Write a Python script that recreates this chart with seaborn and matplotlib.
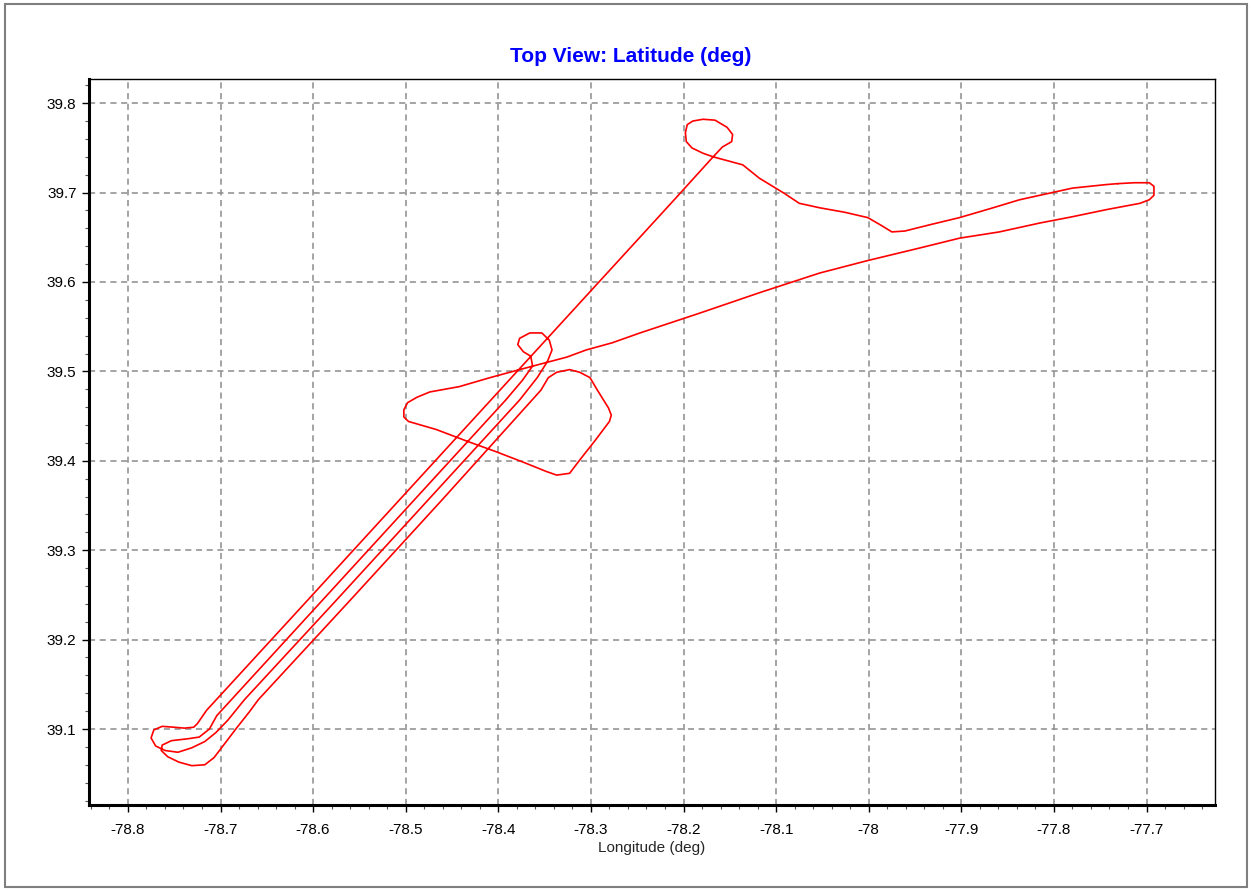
import numpy as np
import pandas as pd
import matplotlib
matplotlib.use("Agg")
import matplotlib.pyplot as plt
import seaborn as sns
from matplotlib.ticker import MultipleLocator
from matplotlib.patches import Rectangle

# Flight track, in drawing order
lon = [-77.731, -77.713, -77.697, -77.692, -77.692, -77.697, -77.707, -77.743, -77.780, -77.815,
       -77.859, -77.902, -77.945, -77.977, -78.001, -78.053, -78.118, -78.183, -78.247, -78.277,
       -78.305, -78.326, -78.348, -78.377, -78.409, -78.442, -78.474, -78.488, -78.498, -78.502,
       -78.502, -78.497, -78.467, -78.434, -78.402, -78.372, -78.348, -78.337, -78.323, -78.312,
       -78.296, -78.280, -78.278, -78.281, -78.293, -78.301, -78.312, -78.323, -78.337, -78.346,
       -78.354, -78.461, -78.560, -78.659, -78.669, -78.682, -78.696, -78.707, -78.717, -78.731,
       -78.745, -78.757, -78.764, -78.763, -78.753, -78.736, -78.723, -78.712, -78.704, -78.590,
       -78.491, -78.392, -78.374, -78.363, -78.365, -78.373, -78.379, -78.377, -78.366, -78.353,
       -78.345, -78.342, -78.347, -78.358, -78.377, -78.476, -78.575, -78.674, -78.692, -78.705,
       -78.717, -78.731, -78.746, -78.760, -78.770, -78.775, -78.772, -78.763, -78.750, -78.739,
       -78.729, -78.725, -78.715, -78.606, -78.507, -78.408, -78.309, -78.210, -78.168, -78.158,
       -78.148, -78.147, -78.153, -78.166, -78.179, -78.190, -78.196, -78.198, -78.197, -78.191,
       -78.179, -78.168, -78.136, -78.118, -78.091, -78.075, -78.053, -78.026, -78.001, -77.986,
       -77.975, -77.961, -77.934, -77.902, -77.869, -77.837, -77.815, -77.780, -77.743, -77.731]
lat = [39.710, 39.711, 39.711, 39.707, 39.697, 39.692, 39.688, 39.681, 39.673, 39.666,
       39.656, 39.649, 39.638, 39.630, 39.624, 39.610, 39.588, 39.565, 39.543, 39.532,
       39.524, 39.516, 39.510, 39.502, 39.493, 39.483, 39.477, 39.471, 39.465, 39.457,
       39.449, 39.444, 39.435, 39.422, 39.410, 39.398, 39.388, 39.384, 39.386, 39.401,
       39.422, 39.444, 39.451, 39.459, 39.479, 39.493, 39.499, 39.502, 39.499, 39.493,
       39.479, 39.356, 39.244, 39.133, 39.119, 39.102, 39.083, 39.068, 39.060, 39.059,
       39.063, 39.069, 39.076, 39.082, 39.087, 39.089, 39.091, 39.100, 39.115, 39.244,
       39.356, 39.468, 39.490, 39.506, 39.517, 39.522, 39.530, 39.537, 39.543, 39.543,
       39.535, 39.524, 39.511, 39.493, 39.468, 39.356, 39.244, 39.133, 39.110, 39.096,
       39.086, 39.079, 39.074, 39.076, 39.081, 39.090, 39.099, 39.103, 39.102, 39.101,
       39.102, 39.106, 39.121, 39.244, 39.356, 39.468, 39.580, 39.692, 39.740, 39.751,
       39.757, 39.765, 39.773, 39.781, 39.782, 39.780, 39.776, 39.767, 39.757, 39.750,
       39.744, 39.740, 39.731, 39.716, 39.699, 39.688, 39.683, 39.678, 39.672, 39.663,
       39.656, 39.657, 39.664, 39.672, 39.682, 39.692, 39.697, 39.705, 39.709, 39.710]

xticks = [-78.8, -78.7, -78.6, -78.5, -78.4, -78.3, -78.2, -78.1, -78.0, -77.9, -77.8, -77.7]
xticklabels = ['-78.8', '-78.7', '-78.6', '-78.5', '-78.4', '-78.3', '-78.2', '-78.1', '-78',
               '-77.9', '-77.8', '-77.7']
yticks = [39.1, 39.2, 39.3, 39.4, 39.5, 39.6, 39.7, 39.8]
yticklabels = ['39.1', '39.2', '39.3', '39.4', '39.5', '39.6', '39.7', '39.8']

df = pd.DataFrame({'lon': lon, 'lat': lat, 'order': np.arange(len(lon))})

sns.set_style("ticks")
plt.rcParams['font.family'] = ['Liberation Sans', 'DejaVu Sans']

fig = plt.figure(figsize=(12.52, 8.91), dpi=100)
ax = fig.add_axes([0.0711, 0.0965, 0.8994, 0.8148])

sns.lineplot(data=df, x='lon', y='lat', sort=False, estimator=None, color='#ff0000',
             linewidth=1.2, ax=ax)

ax.set_xlim(-78.842, -77.626)
ax.set_ylim(39.015, 39.827)
ax.set_xticks(xticks)
ax.set_xticklabels(xticklabels)
ax.set_yticks(yticks)
ax.set_yticklabels(yticklabels)
ax.xaxis.set_minor_locator(MultipleLocator(0.02))
ax.yaxis.set_minor_locator(MultipleLocator(0.02))
ax.tick_params(which='major', direction='out', length=5, width=1, labelsize=11,
               colors='black')
ax.tick_params(axis='x', which='major', pad=8)
ax.tick_params(axis='y', which='major', pad=4)
ax.tick_params(which='minor', direction='out', length=3, width=0.8, colors='#555555')

ax.grid(True, which='major', linestyle=(0, (4, 3)), color='#8c8c8c', linewidth=1.1)
ax.set_axisbelow(True)

for side in ['top', 'right']:
    ax.spines[side].set_linewidth(1.0)
    ax.spines[side].set_color('black')
for side in ['left', 'bottom']:
    ax.spines[side].set_linewidth(2.2)
    ax.spines[side].set_color('black')

ax.set_xlabel("Longitude (deg)", fontsize=11, labelpad=3)
ax.set_ylabel("")

fig.text(0.504, 0.937, "Top View: Latitude (deg)", color='#0000ff', fontsize=15,
         fontweight='bold', ha='center', va='center')

# outer frame of the picture
fig.patches.append(Rectangle((0.004, 0.004), 0.992, 0.991, transform=fig.transFigure,
                             fill=False, edgecolor='#7f7f7f', linewidth=1.5))

plt.savefig('out.png', dpi=100)
